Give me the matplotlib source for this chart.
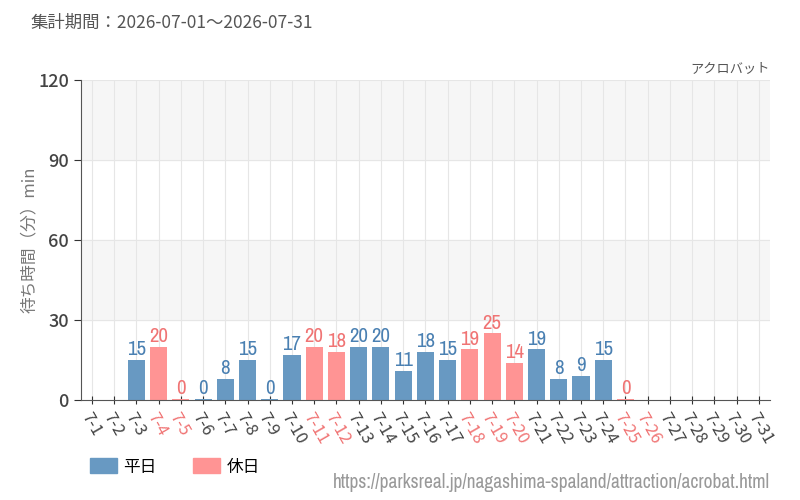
import matplotlib
matplotlib.use("Agg")
import matplotlib.pyplot as plt
from matplotlib.patches import Patch
from matplotlib import font_manager

plt.rcParams['font.family'] = ['Noto Sans CJK JP', 'DejaVu Sans']

days = ['7-%d' % d for d in range(1, 32)]
holidays = ['7-4', '7-5', '7-11', '7-12', '7-18', '7-19', '7-20', '7-25', '7-26']
waits = [None, None, 15, 20, 0, 0, 8, 15, 0, 17, 20, 18, 20, 20, 11, 18, 15,
         19, 25, 14, 19, 8, 9, 15, 0, None, None, None, None, None, None]

blue = '#6899c2'
pink = '#ff9494'
blue_txt = '#4a80b2'
pink_txt = '#f07474'

# condensed face for the value labels, if one is there
names = sorted({f.name for f in font_manager.fontManager.ttflist})
narrow = [n for n in names if 'Condensed' in n or 'Narrow' in n]
narrow_fam = narrow + ['DejaVu Sans']

fig = plt.figure(figsize=(8, 5), dpi=100)
ax = fig.add_axes([0.101, 0.2, 0.8615, 0.64])

ax.axhspan(30, 60, color='#f6f6f6', zorder=0)
ax.axhspan(90, 120, color='#f6f6f6', zorder=0)
for y in [30, 60, 90, 120]:
    ax.axhline(y, color='#e6e6e6', lw=0.8, zorder=1)
for i in range(len(days)):
    ax.axvline(i, color='#e6e6e6', lw=0.8, zorder=1)

for i, (d, v) in enumerate(zip(days, waits)):
    if v is None:
        continue
    hol = d in holidays
    h = v if v > 0 else 0.35
    ax.bar(i, h, width=0.77, color=pink if hol else blue, zorder=2)
    ax.text(i, h + 0.3, str(v), ha='center', va='bottom', fontsize=15,
            family=narrow_fam, fontstretch='condensed',
            color=pink_txt if hol else blue_txt, zorder=3)

ax.set_xlim(-0.5, len(days) - 0.5)
ax.set_ylim(0, 120)
ax.set_yticks([0, 30, 60, 90, 120])
ax.set_xticks(range(len(days)))
ax.set_xticklabels(days, rotation=-60, ha='left', va='top', rotation_mode='anchor', fontsize=12)
for lbl, d in zip(ax.get_xticklabels(), days):
    lbl.set_color(pink_txt if d in holidays else '#444444')
ax.tick_params(axis='x', direction='inout', length=6, color='#333333', pad=4)
ax.tick_params(axis='y', direction='out', length=5, color='#333333', labelsize=13,
               labelcolor='#444444')
for lbl in ax.get_yticklabels():
    lbl.set_fontweight('medium')

for s in ['top', 'right']:
    ax.spines[s].set_visible(False)
ax.spines['left'].set_color('#555555')
ax.spines['bottom'].set_color('#555555')

ax.set_ylabel('待ち時間（分）min', color='#777777', fontsize=12)
ax.yaxis.set_label_coords(-0.062, 0.5)

fig.text(0.0375, 0.955, '集計期間：2026-07-01～2026-07-31', fontsize=12.5, color='#555555',
         va='center')
fig.text(0.9625, 0.862, 'アクロバット', fontsize=9.5, color='#555555', ha='right', va='center')

handles = [Patch(color=blue, label='平日'), Patch(color=pink, label='休日')]
fig.legend(handles=handles, loc='center left', bbox_to_anchor=(0.094, 0.066), ncol=2,
           frameon=False, fontsize=12, handlelength=1.6, handleheight=1.0,
           columnspacing=2.2, handletextpad=0.4)

fig.text(0.9625, 0.035, 'https://parksreal.jp/nagashima-spaland/attraction/acrobat.html',
         fontsize=14, color='#999999', ha='right', va='center',
         family=narrow_fam, fontstretch='condensed')

fig.savefig('out.png', dpi=100)
